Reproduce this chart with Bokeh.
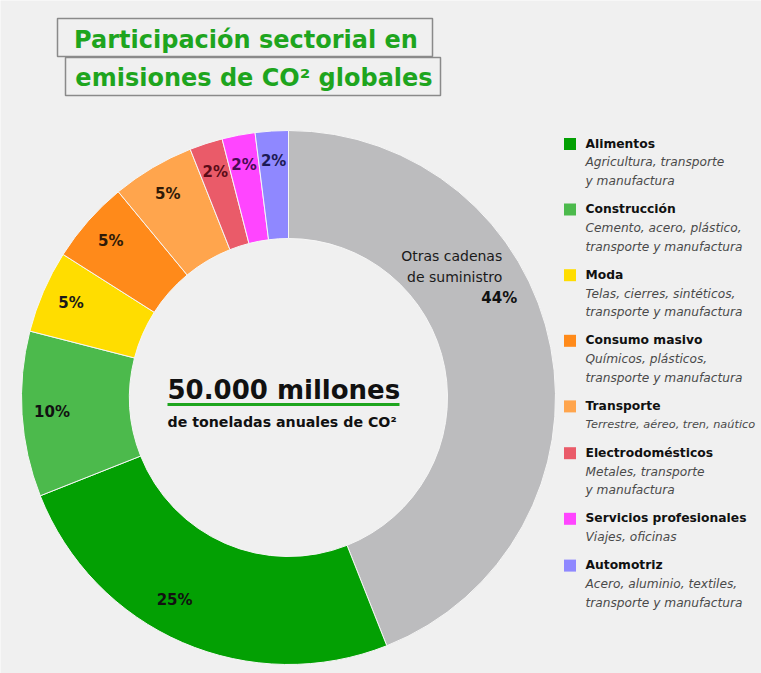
import math
from bokeh.plotting import figure
from bokeh.models import Range1d, ColumnDataSource
from bokeh.core.properties import value
from bokeh.embed import file_html
from bokeh.resources import INLINE

# ---------------- data ----------------
sectors = ["Otras cadenas de suministro", "Alimentos", "Construcción", "Moda",
           "Consumo masivo", "Transporte", "Electrodomésticos",
           "Servicios profesionales", "Automotriz"]
shares = [44, 25, 10, 5, 5, 5, 2, 2, 2]
pct_labels = ["44%", "25%", "10%", "5%", "5%", "5%", "2%", "2%", "2%"]
other_label_lines = ["Otras cadenas", "de suministro"]
legend_titles = sectors[1:]
legend_desc = [
    ["Agricultura, transporte", "y manufactura"],
    ["Cemento, acero, plástico,", "transporte y manufactura"],
    ["Telas, cierres, sintéticos,", "transporte y manufactura"],
    ["Químicos, plásticos,", "transporte y manufactura"],
    ["Terrestre, aéreo, tren, naútico"],
    ["Metales, transporte", "y manufactura"],
    ["Viajes, oficinas"],
    ["Acero, aluminio, textiles,", "transporte y manufactura"],
]
title_lines = ["Participación sectorial en", "emisiones de CO² globales"]
total_value = "50.000 millones"
total_caption = "de toneladas anuales de CO²"

# ---------------- styles ----------------
BG = "#f0f0f0"
GREEN_T = "#1ea51e"
colors = ["#bcbcbe", "#03a003", "#4cba4c", "#ffdd00", "#ff8a1a",
          "#ffa54d", "#ea5b69", "#ff45ff", "#8f88ff"]
label_colors = ["#111111", "#111111", "#111111", "#1a1a1a", "#2e1a08",
                "#2e1a08", "#5a0c18", "#4a0a55", "#1c1a55"]
FONT = value("DejaVu Sans")

W, H = 761, 673
def X(sx):
    return sx
def Y(sy):
    return H - sy

p = figure(width=W, height=H, x_range=Range1d(0, W), y_range=Range1d(0, H),
           output_backend="svg", toolbar_location=None,
           x_axis_location=None, y_axis_location=None, min_border=0,
           background_fill_color=BG, border_fill_color=BG,
           outline_line_color=None)
p.grid.visible = False

# ---------------- donut ----------------
cx, cy = X(288), Y(397)
r_in, r_out = 159, 267
total = sum(shares)
starts, ends, mids = [], [], []
acc = 0.0
for s in shares:
    f0 = acc / total
    acc += s
    f1 = acc / total
    starts.append(math.pi / 2 - 2 * math.pi * f0)
    ends.append(math.pi / 2 - 2 * math.pi * f1)
    mids.append(360 * (f0 + f1) / 2)

src = ColumnDataSource(dict(start=starts, end=ends, color=colors))
p.annular_wedge(x=cx, y=cy, inner_radius=r_in, outer_radius=r_out,
                start_angle="start", end_angle="end", direction="clock",
                fill_color="color", line_color="#f6f6f6", line_width=1,
                source=src)

# percentage labels
nudge = {0: -14.5, 1: 6.0}
lab_r = {0: 232, 1: 232}
lx, ly, lt, lc = [], [], [], []
for i, m in enumerate(mids):
    a = math.radians(m + nudge.get(i, 0.0))
    r = lab_r.get(i, 237)
    x = cx + r * math.sin(a)
    y = cy + r * math.cos(a)
    if i == 0:
        # right-aligned block for the large grey slice
        p.text(x=[x + 19], y=[y], text=[pct_labels[i]], text_align="right",
               text_baseline="middle", text_font=FONT, text_font_style="bold",
               text_font_size="15px", text_color=label_colors[i])
        p.text(x=[x + 4, x + 4], y=[y + 42, y + 21], text=other_label_lines,
               text_align="right", text_baseline="middle", text_font=FONT,
               text_font_size="14px", text_color="#1a1a1a")
        continue
    lx.append(x); ly.append(y); lt.append(pct_labels[i]); lc.append(label_colors[i])
p.text(x=lx, y=ly, text=lt, text_color=lc, text_align="center",
       text_baseline="middle", text_font=FONT, text_font_style="bold",
       text_font_size="15px")

# centre text
p.text(x=[X(167)], y=[Y(389.5)], text=[total_value], text_align="left",
       text_baseline="middle", text_font=FONT, text_font_style="bold",
       text_font_size="26px", text_color="#111111")
p.quad(left=[X(167)], right=[X(399)], top=[Y(402.5)], bottom=[Y(405.5)],
       fill_color=GREEN_T, line_color=None)
p.text(x=[X(167)], y=[Y(421)], text=[total_caption], text_align="left",
       text_baseline="middle", text_font=FONT, text_font_style="bold",
       text_font_size="14.2px", text_color="#111111")

# ---------------- title boxes ----------------
boxes = [(57, 432, 18, 56), (65, 440, 57, 95)]
centres = [39, 77]
for (l, r, t, b), line, cyl in zip(boxes, title_lines, centres):
    p.quad(left=[X(l)], right=[X(r)], top=[Y(t)], bottom=[Y(b)],
           fill_color=BG, line_color="#8a8a8a", line_width=1.5)
    p.text(x=[X((l + r) / 2 + 1)], y=[Y(cyl)], text=[line], text_align="center",
           text_baseline="middle", text_font=FONT, text_font_style="bold",
           text_font_size="24px", text_color=GREEN_T)

# ---------------- legend ----------------
hy = 143.0
sq_x, sq_y, hx, hyy, dx, dy, dt, dsz = [], [], [], [], [], [], [], []
for k, (title, desc) in enumerate(zip(legend_titles, legend_desc)):
    sq_x.append(X(569.5)); sq_y.append(Y(hy + 0.5))
    hx.append(X(585)); hyy.append(Y(hy))
    for j, d in enumerate(desc):
        dx.append(X(585)); dy.append(Y(hy + 18.8 * (j + 1))); dt.append(d)
        dsz.append("11.3px" if len(d) > 28 else "12.2px")
    hy += 28 + 18.8 * len(desc)
p.rect(x=sq_x, y=sq_y, width=12, height=12, fill_color=colors[1:],
       line_color=None)
p.text(x=hx, y=hyy, text=legend_titles, text_align="left",
       text_baseline="middle", text_font=FONT, text_font_style="bold",
       text_font_size="12.3px", text_color="#111111")
p.text(x=dx, y=dy, text=dt, text_align="left", text_baseline="middle",
       text_font=FONT, text_font_style="italic", text_font_size=dsz,
       text_color="#4a4a4a")

open("out.html", "w").write(file_html(p, INLINE))
